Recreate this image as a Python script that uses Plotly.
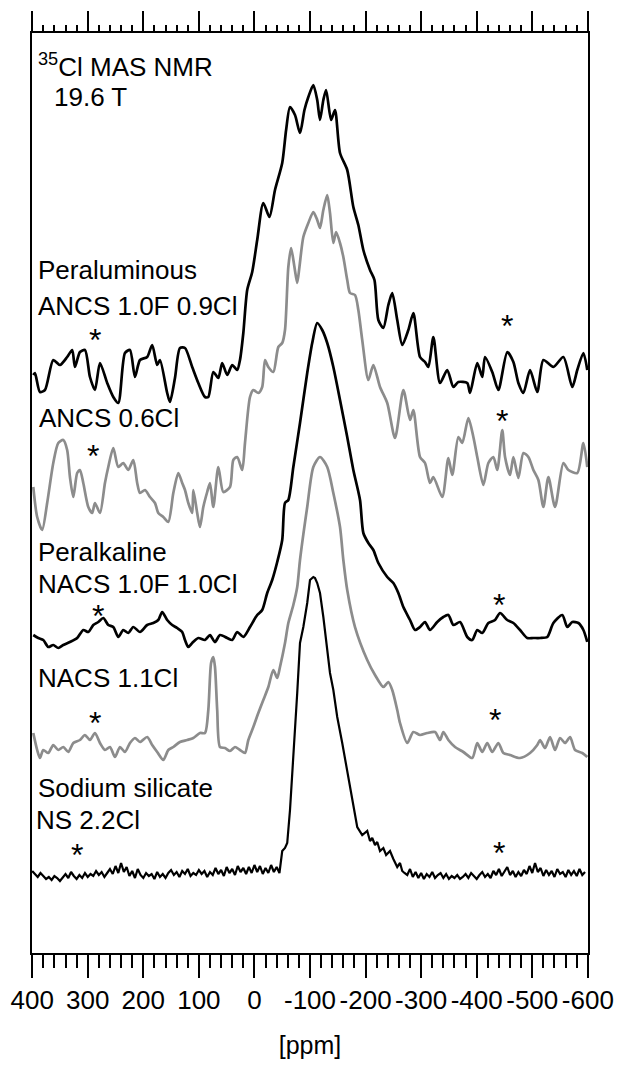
import plotly.graph_objects as go

# ---- 35Cl MAS NMR spectra (chemical shift in ppm, intensity in a.u.) ----

# Peraluminous ANCS 1.0F 0.9Cl
ancs_f_ppm = [398, 395, 386, 377, 362, 350, 337, 328, 323, 314, 305, 296, 287, 278, 265, 254, 245,
              233, 224, 215, 206, 193, 184, 175, 170, 157, 152, 143, 134, 125, 112, 101, 89, 83, 74,
              65, 58, 49, 40, 31, 26, 20, 13, 4, -5, -16, -27, -37, -50, -57, -64, -73, -82, -90,
              -97, -106, -113, -118, -124, -129, -138, -145, -154, -167, -178, -187, -196, -208,
              -216, -223, -232, -241, -248, -257, -266, -277, -286, -298, -307, -313, -322, -334,
              -347, -358, -367, -383, -388, -401, -410, -415, -428, -439, -455, -466, -475, -484,
              -496, -509, -520, -538, -556, -572, -581, -592, -599]
ancs_f_int = [-5, -3, -22, -20, 10, 5, 13, 20, 3, 18, 20, -7, -20, 7, -13, -27, -33,
              17, 20, -7, 10, 13, 25, 5, 10, -23, -32, -8, 22, 22, 3, -13, -27, -27, -2,
              -8, 7, -5, 5, 0, 10, 37, 80, 98, 130, 167, 153, 180, 207, 240, 263, 255, 237, 260,
              273, 285, 270, 250, 270, 280, 250, 260, 217, 200, 163, 145, 120, 100,
              90, 50, 42, 65, 77, 50, 25, 40, 57, 13, 8, 3, 33, -13,
              0, -17, -12, -13, -23, 7, -7, 13, -2, -20, 18, 8, -13, -23,
              0, -22, 10, 3, 13, -17, 0, 17, 0]

# ANCS 0.6Cl
ancs_ppm = [398, 391, 382, 373, 362, 353, 344, 337, 332, 326, 319, 314, 308, 299, 292, 287, 278,
            269, 263, 254, 245, 236, 227, 218, 211, 206, 197, 188, 179, 173, 164, 155, 146, 137,
            130, 125, 119, 112, 110, 103, 98, 92, 85, 80, 74, 65, 56, 44, 38, 31, 22, 17, 8, 2,
            -7, -14, -19, -25, -34, -43, -50, -55, -61, -66, -72, -77, -81, -88, -97, -106, -113,
            -118, -124, -131, -136, -142, -147, -154, -160, -167, -172, -181, -187, -194, -205,
            -214, -226, -239, -253, -268, -280, -286, -298, -307, -316, -322, -338, -349, -356,
            -367, -374, -385, -394, -401, -412, -421, -430, -437, -446, -451, -460, -466, -475,
            -484, -493, -502, -511, -520, -529, -541, -556, -565, -581, -592, -599]
ancs_int = [-7, -37, -50, -23, 17, 37, 40, 30, 3, -17, 7, 10, -3, -27, -33, -23, -33,
            -3, 13, 32, 13, 17, 10, 20, -3, -13, -10, -17, -23, -33, -37, -42, -13, 7,
            -3, -10, -23, -33, -10, -33, -47, -27, -12, -3, -27, 13, -12, -7, 20, 23, 10, 37, 83, 90,
            87, 93, 120, 113, 108, 133, 137, 150, 213, 232, 213, 197, 213, 243, 257, 268, 260,
            252, 270, 285, 267, 237, 248, 237, 223, 200, 187, 185, 170, 140, 100,
            115, 93, 77, 42, 90, 60, 70, 23, 17, -3, 3, -17, 22, 5,
            43, 37, 62, 43, 23, -5, 17, 23, 10, 50, 23, 5, 23, 2,
            27, 23, 10, 0, -27, 3, -27, 17, 10, 7, 37, 13]

# Peralkaline NACS 1.0F 1.0Cl
nacs_f_ppm = [398, 389, 380, 371, 362, 353, 344, 332, 319, 308, 299, 290, 281, 272, 263, 254, 245,
              236, 227, 218, 206, 193, 182, 173, 166, 157, 148, 139, 130, 125, 119, 112, 101, 89,
              80, 71, 62, 49, 40, 31, 20, 8, -5, -14, -23, -32, -41, -50, -55, -61, -70, -82, -95,
              -104, -113, -122, -131, -142, -154, -167, -178, -190, -196, -205, -214, -223, -239,
              -250, -259, -268, -280, -289, -298, -307, -316, -329, -340, -349, -358, -370, -383,
              -392, -401, -410, -421, -433, -442, -455, -466, -478, -491, -502, -514, -527, -538,
              -554, -563, -572, -583, -592, -599]
nacs_f_int = [-3, -6, -8, -15, -13, -16, -13, -10, -6, 2, 0, 7, 10, 14, 7, 5, -5,
              2, -1, 5, 0, 7, 9, 12, 20, 12, 7, 4, 0, -8, -15, -11, -6, -8,
              -3, -10, -3, -6, -8, 0, -5, 5, 17, 22, 39, 52, 70, 92, 129, 132, 165, 209, 259,
              289, 309, 302, 289, 265, 232, 195, 162, 132, 99, 89, 82, 69, 55,
              49, 39, 25, 12, 2, 5, 10, 2, 10, 15, 17, 7, 10, -5,
              -8, 2, -1, 9, 12, 19, 12, 9, 2, -6, -6, -6, -5, 9,
              17, 5, 10, 9, 2, -10]

# NACS 1.1Cl
nacs_ppm = [398, 391, 386, 380, 371, 362, 353, 344, 335, 326, 314, 305, 296, 287, 278, 269, 260,
            251, 242, 233, 224, 215, 206, 193, 184, 175, 164, 155, 146, 134, 121, 110, 98, 89, 83,
            78, 74, 71, 67, 62, 53, 44, 35, 26, 17, 11, 2, -7, -16, -25, -34, -41, -46, -55, -61,
            -70, -77, -82, -95, -106, -118, -131, -142, -154, -160, -167, -181, -203, -217, -232,
            -241, -248, -257, -262, -275, -286, -298, -311, -325, -334, -340, -349, -361, -376,
            -392, -401, -410, -419, -428, -439, -448, -460, -478, -496, -509, -514, -523, -532,
            -541, -550, -559, -568, -577, -590, -599]
nacs_int = [12, -5, -13, -5, -8, 0, -5, -2, -7, 2, 5, 10, 5, 12, 2, -5, -2,
            -12, -2, -7, 2, 7, 3, 8, 0, -7, -15, -5, -2, 3, 5, 7, 12, 12, 35,
            82, 88, 78, 35, -2, -3, -6, -2, -5, -8, 5, 18, 32, 45, 58, 75, 67, 78, 102, 122,
            140, 158, 185, 238, 278, 288, 278, 252, 218, 185, 155, 118, 85, 70, 58,
            63, 55, 35, 22, 2, 13, 10, 12, 13, 5, 13, 5, -2, -7,
            -13, 2, -7, 2, -7, 2, -8, -10, -13, -8, 0, 5, -3, 8,
            -5, 7, 2, 8, -5, -8, -12]

# Sodium silicate NS 2.2Cl
ns_ppm = [400, 395, 390, 385, 380, 375, 370, 365, 360, 355, 350, 345, 340, 335, 330, 325, 320,
          315, 310, 305, 300, 295, 290, 285, 280, 275, 270, 265, 260, 255, 250, 245, 240, 235,
          230, 225, 220, 215, 210, 205, 200, 195, 190, 185, 180, 175, 170, 165, 160, 155, 150,
          145, 140, 135, 130, 125, 120, 115, 110, 105, 100, 95, 90, 85, 80, 75, 70, 65, 60, 55,
          50, 45, 40, 35, 30, 25, 20, 15, 10, 5, 0, -5, -10, -15, -20, -25, -30, -35, -40, -45,
          -50, -55, -59, -64, -70, -77, -82, -88, -95, -100, -106, -109, -113, -118, -124, -131,
          -136, -142, -149, -158, -167, -176, -185, -194, -203, -208, -212, -217, -221, -226,
          -232, -237, -244, -250, -257, -262, -266, -270, -275,
          -280, -285, -290, -295, -300, -305, -310, -315, -320, -325, -330, -335, -340, -345,
          -350, -355, -360, -365, -370, -375, -380, -385, -390, -395, -400, -405, -410, -415,
          -420, -425, -430, -435, -440, -445, -450, -455, -460, -465, -470, -475, -480, -485,
          -490, -495, -500, -505, -510, -515, -520, -525, -530, -535, -540, -545, -550, -555,
          -560, -565, -570, -575, -580, -585, -590, -595, -600]
ns_int = [4, 1, -2, 2, -1, -4, -2, -5, -1, -3, -6, -2, 1, -3, 3, -1, -4,
          0, -3, 2, -2, 1, -1, 4, 0, 3, -2, 2, 6, 1, 9, 2, 12, 3,
          8, -1, 4, -3, 6, 0, -3, 2, -1, 1, -4, 3, -2, 1, -3, 2, 5,
          0, 3, -2, 4, 1, 6, -1, 2, 0, 5, 1, 4, -2, 3, 0, 7, 1, 5, -1,
          8, 2, 6, 0, 9, 3, 7, 1, 8, 2, 10, 3, 9, 1, 7, 2, 10, 3, 8, 2,
          24, 27, 32, 65, 115, 182, 232, 248, 272, 295, 298, 297, 292, 282, 258,
          228, 202, 185, 158, 132, 105, 78, 48, 40, 44, 34, 37, 30, 33,
          24, 27, 20, 24, 16, 8, 12, 4, 2,
          0, 6, -2, 3, -3, 2, -4, 1, -2, 3, -3, 0, 2, -3,
          1, -4, -1, -3, 0, -4, -2, 1, -3, 2, -1, -4, 0, 3,
          -2, 1, -3, 4, 0, 6, -1, 3, 8, 0, 4, -2, 3, -1,
          5, 1, 9, 2, 12, 3, 7, -1, 5, 0, 4, -2, 6, 1,
          3, -2, 5, 0, 4, -1, 6, 0, 3]

# stacking order (top to bottom): data, baseline offset, colour, width, line shape
spectra = [
    (ancs_f_ppm, ancs_f_int, 583, "#000000", 2.7, "spline"),
    (ancs_ppm, ancs_int, 473, "#8c8c8c", 2.7, "spline"),
    (nacs_f_ppm, nacs_f_int, 321, "#000000", 2.7, "spline"),
    (nacs_ppm, nacs_int, 208, "#8c8c8c", 2.7, "spline"),
    (ns_ppm, ns_int, 78, "#000000", 2.2, "linear"),
]

# sample labels: (text, ppm, height)
labels = [
    ("<sup>35</sup>Cl MAS NMR", 393, 888),
    ("19.6 T", 365, 856),
    ("Peraluminous", 394, 683),
    ("ANCS 1.0F 0.9Cl", 394, 647),
    ("ANCS 0.6Cl", 391, 535),
    ("Peralkaline", 394, 401),
    ("NACS 1.0F 1.0Cl", 394, 369),
    ("NACS 1.1Cl", 394, 275),
    ("Sodium silicate", 394, 165),
    ("NS 2.2Cl", 396, 133),
]

# spinning sideband markers: (ppm, height)
sidebands = [(287, 613), (-455, 627), (290, 497), (-446, 532), (281, 337), (-441, 348),
             (287, 230), (-433, 233), (319, 98), (-441, 100)]

# axis ticks
major_ticks = [400, 300, 200, 100, 0, -100, -200, -300, -400, -500, -600]
major_text = ["400", "300", "200", "100", "0", "-100", "-200", "-300", "-400", "-500", "-600"]

fig = go.Figure()
for ppm, inten, off, col, lw, shape in spectra:
    fig.add_trace(go.Scatter(x=ppm, y=[off + v for v in inten], mode="lines",
                             line=dict(color=col, width=lw, shape=shape, smoothing=0.7),
                             hoverinfo="skip", showlegend=False))

# helper trace so the top axis is drawn
fig.add_trace(go.Scatter(x=[0], y=[0], xaxis="x2", mode="markers",
                         marker=dict(opacity=0), showlegend=False, hoverinfo="skip"))

font_family = "Liberation Sans, Arial, sans-serif"
for text, xp, yv in labels:
    fig.add_annotation(x=xp, y=yv, text=text, showarrow=False, xanchor="left",
                       yanchor="middle", font=dict(family=font_family, size=26, color="black"))
for xp, yv in sidebands:
    fig.add_annotation(x=xp, y=yv, text="*", showarrow=False, xanchor="center",
                       yanchor="middle", font=dict(family=font_family, size=32, color="black"))

x_range = [400.3, -600.3]
fig.update_layout(
    width=619, height=1072,
    margin=dict(l=32, r=31, t=33, b=119, autoexpand=False),
    paper_bgcolor="white", plot_bgcolor="white",
    showlegend=False,
    xaxis=dict(range=x_range, tickmode="array", tickvals=major_ticks, ticktext=major_text,
               tickangle=0, ticks="outside", ticklen=23, tickwidth=2, tickcolor="black",
               automargin=False,
               showline=True, linewidth=2, linecolor="black", showgrid=False, zeroline=False,
               minor=dict(tickmode="linear", dtick=20, tick0=0, ticks="outside", ticklen=13,
                          tickwidth=1.5, tickcolor="black", showgrid=False),
               tickfont=dict(family=font_family, size=26, color="black"),
               title=dict(text="[ppm]", font=dict(family=font_family, size=25, color="black"),
                          standoff=22)),
    xaxis2=dict(overlaying="x", side="top", matches="x", range=x_range, automargin=False,
                tickmode="array", tickvals=major_ticks, ticks="outside", ticklen=20,
                tickwidth=2, tickcolor="black", showticklabels=False,
                showline=True, linewidth=2, linecolor="black", showgrid=False, zeroline=False,
                minor=dict(tickmode="linear", dtick=20, tick0=0, ticks="outside", ticklen=6,
                           tickwidth=1.5, tickcolor="black", showgrid=False)),
    yaxis=dict(range=[0, 920], showline=True, mirror=True, linewidth=2, linecolor="black",
               automargin=False,
               showticklabels=False, ticks="", showgrid=False, zeroline=False),
)

fig.write_html("out.html")
